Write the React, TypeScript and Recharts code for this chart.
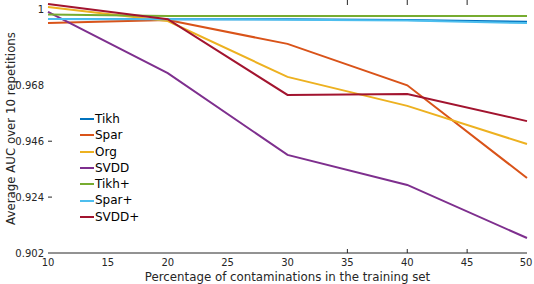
import { Line, LineChart, XAxis, YAxis } from 'recharts'

const contamination = [10, 20, 30, 40, 50]
const tikh = [0.9941, 0.994, 0.994, 0.9937, 0.993]
const spar = [0.9925, 0.9937, 0.9843, 0.968, 0.9315]
const org = [0.9988, 0.9933, 0.9713, 0.9599, 0.9449]
const svdd = [0.9969, 0.9728, 0.9406, 0.9288, 0.9079]
const tikhPlus = [0.9959, 0.9953, 0.9953, 0.9953, 0.9953]
const sparPlus = [0.9941, 0.994, 0.9938, 0.9935, 0.9925]
const svddPlus = [1.0, 0.994, 0.9642, 0.9646, 0.9539]

const xTicks = [10, 15, 20, 25, 30, 35, 40, 45, 50]
const yTicks = [0.902, 0.924, 0.946, 0.968, 1]
const markedX = [35, 40, 45]
const markedY = [0.924, 0.946]

const series = [
  { key: 'tikh', name: 'Tikh', color: '#0072BD', values: tikh },
  { key: 'spar', name: 'Spar', color: '#D95319', values: spar },
  { key: 'org', name: 'Org', color: '#EDB120', values: org },
  { key: 'svdd', name: 'SVDD', color: '#7E2F8E', values: svdd },
  { key: 'tikhPlus', name: 'Tikh+', color: '#77AC30', values: tikhPlus },
  { key: 'sparPlus', name: 'Spar+', color: '#4DBEEE', values: sparPlus },
  { key: 'svddPlus', name: 'SVDD+', color: '#A2142F', values: svddPlus },
]

const data = contamination.map((c, i) => {
  const row: Record<string, number> = { c }
  series.forEach((s) => (row[s.key] = s.values[i]))
  return row
})

const font = '"DejaVu Sans", sans-serif'
const ink = '#262626'

const fmtY = (v: number) => (v === 1 ? '1' : v.toFixed(3))

function BottomTick(props: any) {
  const { x, y, payload } = props
  return (
    <g>
      {markedX.includes(payload.value) && <line x1={x} x2={x} y1={y - 4} y2={y} stroke={ink} />}
      <text x={x} y={y + 13} textAnchor="middle" fontSize={10} fill={ink} fontFamily={font}>
        {payload.value}
      </text>
    </g>
  )
}

function TopTick(props: any) {
  const { x, y, payload } = props
  if (!markedX.includes(payload.value)) return <g />
  return <line x1={x} x2={x} y1={y - 4} y2={y + 1} stroke={ink} />
}

function LeftTick(props: any) {
  const { x, y, payload } = props
  return (
    <g>
      {markedY.includes(payload.value) && <line x1={x} x2={x + 4} y1={y} y2={y} stroke={ink} />}
      <text x={x - 4} y={y + 4} textAnchor="end" fontSize={10} fill={ink} fontFamily={font}>
        {fmtY(payload.value)}
      </text>
    </g>
  )
}

function RightTick(props: any) {
  const { x, y, payload } = props
  if (!markedY.includes(payload.value)) return <g />
  return <line x1={x - 5} x2={x} y1={y} y2={y} stroke={ink} />
}

function LegendBox() {
  return (
    <div
      style={{
        position: 'absolute',
        left: 80,
        top: 111,
        fontFamily: font,
        fontSize: 12,
        color: '#000',
        lineHeight: '16.3px',
      }}
    >
      {series.map((s) => (
        <div key={s.key} style={{ display: 'flex', alignItems: 'center' }}>
          <span style={{ display: 'inline-block', width: 14, height: 2, background: s.color, marginRight: 1 }} />
          <span>{s.name}</span>
        </div>
      ))}
    </div>
  )
}

export default function App() {
  return (
    <div style={{ position: 'absolute', left: 0, top: 0, width: 534, height: 284, background: '#fff' }}>
      <LineChart width={534} height={284} data={data} margin={{ top: 0, right: 0, left: 0, bottom: 0 }}>
        <XAxis
          dataKey="c"
          type="number"
          domain={[10, 50]}
          ticks={xTicks}
          tickSize={0}
          tickMargin={0}
          tick={BottomTick}
          height={31}
          axisLine={{ stroke: ink }}
          label={{ value: 'Percentage of contaminations in the training set', position: 'insideBottom', offset: 3, fill: ink, fontSize: 11.8, fontFamily: font }}
        />
        <XAxis
          xAxisId="top"
          orientation="top"
          dataKey="c"
          type="number"
          domain={[10, 50]}
          ticks={xTicks}
          tickSize={0}
          tickMargin={0}
          tick={TopTick}
          axisLine={false}
          height={4}
        />
        <YAxis
          type="number"
          domain={[0.902, 1]}
          ticks={yTicks}
          tickSize={0}
          tickMargin={0}
          tick={LeftTick}
          axisLine={false}
          width={48}
          label={{ value: 'Average AUC over 10 repetitions', angle: -90, position: 'insideLeft', offset: 11, fill: ink, fontSize: 11.8, fontFamily: font, style: { textAnchor: 'middle' } }}
        />
        <YAxis
          yAxisId="right"
          orientation="right"
          type="number"
          domain={[0.902, 1]}
          ticks={yTicks}
          tickSize={0}
          tickMargin={0}
          tick={RightTick}
          axisLine={false}
          width={7}
        />
        {series.map((s) => (
          <Line
            key={s.key}
            dataKey={s.key}
            name={s.name}
            stroke={s.color}
            strokeWidth={2}
            dot={false}
            type="linear"
            isAnimationActive={false}
          />
        ))}
      </LineChart>
      <LegendBox />
    </div>
  )
}
